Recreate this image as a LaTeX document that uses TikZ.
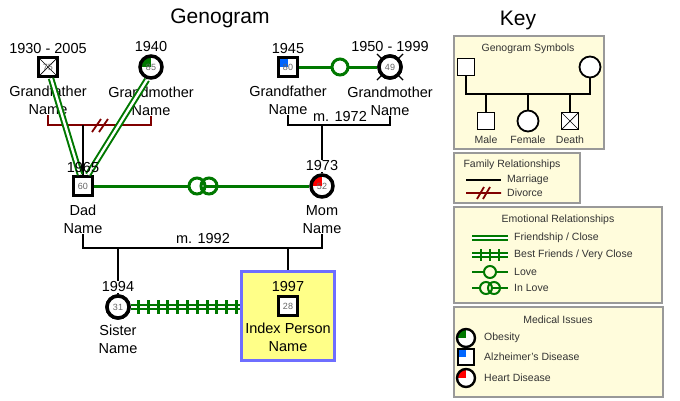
\documentclass[tikz,border=0pt]{standalone}
\usepackage{fontspec}
\setmainfont{Liberation Sans}
\usetikzlibrary{positioning,calc}
\definecolor{rel}{RGB}{0,120,0}
\definecolor{divc}{RGB}{128,0,0}
\definecolor{keyfill}{RGB}{255,252,220}
\definecolor{idxfill}{RGB}{255,255,136}
\definecolor{idxline}{RGB}{110,110,255}
\tikzstyle{male} = [draw, rectangle, line width=3.5pt, fill=white, minimum size=19pt, inner sep=0pt, font=\fontsize{9}{9}\selectfont\color{black!60}]
\tikzstyle{female} = [draw, circle, line width=3.5pt, fill=white, minimum size=22pt, inner sep=0pt, font=\fontsize{9}{9}\selectfont\color{black!60}]
\tikzstyle{kmale} = [draw, rectangle, line width=1.8pt, fill=white, minimum size=17pt, inner sep=0pt]
\tikzstyle{kfemale} = [draw, circle, line width=1.8pt, fill=white, minimum size=21pt, inner sep=0pt]
\tikzstyle{dead} = [path picture={\draw[line width=0.7pt] (path picture bounding box.north west) -- (path picture bounding box.south east) (path picture bounding box.north east) -- (path picture bounding box.south west);}]
\tikzstyle{quarter} = [path picture={\fill[#1] (path picture bounding box.center) rectangle (path picture bounding box.north west);}]
\tikzstyle{year} = [font=\fontsize{14.5}{15}\selectfont, inner sep=1pt, fill=white]
\tikzstyle{pname} = [font=\fontsize{14.5}{18}\selectfont, align=center, inner sep=0pt]
\tikzstyle{marriage} = [draw, line width=2.8pt]
\tikzstyle{friend} = [draw=rel, line width=2pt, double=white, double distance=2.4pt]
\tikzstyle{love} = [draw=rel, line width=3pt]
\tikzstyle{lovec} = [draw=rel, circle, line width=3pt, fill=white, minimum size=16pt, inner sep=0pt]
\tikzstyle{keybox} = [draw=black!40, fill=keyfill, line width=1.2pt]
\tikzstyle{ktitle} = [font=\fontsize{10.5}{11}\selectfont, text=black!80]
\tikzstyle{ktext} = [font=\fontsize{10.5}{11}\selectfont, text=black!80, anchor=west, inner sep=0pt]
\begin{document}
\begin{tikzpicture}[x=1pt, y=-1pt]
\useasboundingbox (0,0) rectangle (680,400);
\node [font=\fontsize{21}{22}\selectfont] (title) at (220,18) {Genogram};
\node [font=\fontsize{21}{22}\selectfont] (keytitle) at (518,20) {Key};

% grandparents
\node [male, dead] (gf1) at (48,67) {75};
\node [female, quarter=rel] (gm1) at (151,67) {85};
\node [male, quarter={blue!60!cyan}] (gf2) at (288,67) {80};
\node [female, dead] (gm2) at (390,67) {49};
\draw [line width=1.2pt] ($(gm2.center)!1.45!(gm2.north west)$) -- ($(gm2.center)!1.45!(gm2.south east)$);
\draw [line width=1.2pt] ($(gm2.center)!1.45!(gm2.north east)$) -- ($(gm2.center)!1.45!(gm2.south west)$);
\node [female, fill=white] at (390,67) {49};
\node [pname, below=8pt of gf1] (gf1name) {Grandfather\\Name};
\node [pname, below=7pt of gm1] (gm1name) {Grandmother\\Name};
\node [pname, below=8pt of gf2] (gf2name) {Grandfather\\Name};
\node [pname, below=7pt of gm2] (gm2name) {Grandmother\\Name};

% parents
\node [male] (dad) at (83,186) {60};
\node [female, quarter=red] (mom) at (322,186) {52};
\node [pname, below=8pt of dad] (dadname) {Dad\\Name};
\node [pname, below=7pt of mom] (momname) {Mom\\Name};

% children
\node [female] (sister) at (118,307) {31};
\node [pname, below=5pt of sister] (sistername) {Sister\\Name};
\node [draw=idxline, fill=idxfill, line width=3.5pt, minimum width=93pt, minimum height=89pt] (idx) at (288,316) {};
\node [male] (me) at (288,306) {28};
\node [pname, below=6pt of me] (mename) {Index Person\\Name};

% relationships
\coordinate (div) at (100,125);
\draw [draw=divc, line width=2.8pt] (gf1name.south) |- (div) -| (gm1name.south);
\draw [draw=divc, line width=1.8pt] (92,132) -- (101,119) (99,132) -- (108,119);
\draw [marriage] (dad |- div) -- (dad.north);
\draw [friend] ($(gf1.south)+(3,0)$) -- ($(dad.north)+(-3,0)$);
\draw [friend] ($(gm1.south)+(-4,0)$) -- ($(dad.north)+(5,0)$);
\coordinate (m72) at (340,125);
\draw [marriage] (gf2name.south) |- (m72) -| (gm2name.south);
\draw [marriage] (m72 -| mom) -- (mom.north);
\node [font=\fontsize{14.5}{15}\selectfont, above=0pt of m72] (m72lbl) {m. 1972};
\draw [love] (gf2) -- (gm2);
\node [lovec] (lv) at (340,67) {};
\draw [love] (dad) -- (mom);
\node [lovec] (il1) at (197,186) {};
\node [draw=rel, circle, line width=3pt, minimum size=16pt, inner sep=0pt] (il2) at (209,186) {};
\coordinate (m92) at (203,248);
\draw [marriage] (dadname.south) |- (m92) -| (momname.south);
\node [font=\fontsize{14.5}{15}\selectfont, above=1pt of m92] (m92lbl) {m. 1992};
\draw [marriage] (m92 -| sister) -- (sister.north);
\draw [marriage] (m92 -| idx) -- (idx.north);
\draw [friend] (sister.east) -- (sister.east -| idx.west);
\foreach \t in {0.07,0.16,...,1.0}
  \draw [rel, line width=3pt] ($(sister.east)!\t!(sister.east -| idx.west)+(0,-7)$) -- ++(0,14);
\node [female] at (118,307) {31};
\node [draw=idxline, line width=3.5pt, minimum width=93pt, minimum height=89pt] at (288,316) {};

% years
\node [year, above=1pt of gf1] (y1) {1930 - 2005};
\node [year, above=1pt of gm1] (y2) {1940};
\node [year, above=1pt of gf2] (y3) {1945};
\node [year, above=1pt of gm2] (y4) {1950 - 1999};
\node [year, above=1pt of dad, fill=none] (y5) {1965};
\node [year, above=1pt of mom] (y6) {1973};
\node [year, above=1pt of sister] (y7) {1994};
\node [year, above=2pt of me, fill=none] (y8) {1997};

% key: symbols
\draw [keybox] (454,36) rectangle (604,149);
\node [ktitle] at (528,49) {Genogram Symbols};
\node [kmale] (ka) at (466,67) {};
\node [kfemale] (kb) at (590,67) {};
\coordinate (kbar) at (528,94);
\draw [line width=1.8pt] (ka.south) |- (kbar) -| (kb.south);
\node [kmale] (kc) at (486,121) {};
\node [kfemale] (kd) at (528,121) {};
\node [kmale, dead] (ke) at (570,121) {};
\draw [line width=1.8pt] (kbar -| kc) -- (kc.north) (kbar -| kd) -- (kd.north) (kbar -| ke) -- (ke.north);
\node [ktitle] at (486,140) {Male};
\node [ktitle] at (528,140) {Female};
\node [ktitle] at (570,140) {Death};

% key: family
\draw [keybox] (454,153) rectangle (580,203);
\node [ktitle] at (512,165) {Family Relationships};
\draw [line width=1.8pt] (466,180) -- (501,180);
\node [ktext] at (507,180) {Marriage};
\draw [divc, line width=1.8pt] (466,193) -- (501,193) (477,199) -- (484,187) (483,199) -- (490,187);
\node [ktext] at (507,193) {Divorce};

% key: emotional
\draw [keybox] (454,207) rectangle (662,303);
\node [ktitle] at (558,220) {Emotional Relationships};
\draw [friend, line width=1.7pt] (472,238) -- (508,238);
\node [ktext] at (514,238) {Friendship / Close};
\draw [friend, line width=1.7pt] (472,255) -- (508,255);
\foreach \x in {481,490,499} \draw [rel, line width=2pt] (\x,249) -- (\x,261);
\node [ktext] at (514,255) {Best Friends / Very Close};
\draw [rel, line width=2pt] (472,272) -- (508,272);
\node [draw=rel, circle, fill=keyfill, line width=2pt, minimum size=12pt, inner sep=0pt] at (490,272) {};
\node [ktext] at (514,272) {Love};
\draw [rel, line width=2pt] (472,288) -- (508,288);
\node [draw=rel, circle, fill=keyfill, line width=2pt, minimum size=12pt, inner sep=0pt] at (486,288) {};
\node [draw=rel, circle, line width=2pt, minimum size=12pt, inner sep=0pt] at (494,288) {};
\node [ktext] at (514,288) {In Love};

% key: medical
\draw [keybox] (454,307) rectangle (663,397);
\node [ktitle] at (558,320) {Medical Issues};
\node [kfemale, line width=2.4pt, minimum size=18pt, quarter=rel] at (466,338) {};
\node [ktext] at (484,338) {Obesity};
\node [kmale, line width=2.4pt, minimum size=16pt, quarter={blue!60!cyan}] at (466,357) {};
\node [ktext] at (484,357) {Alzheimer's Disease};
\node [kfemale, line width=2.4pt, minimum size=18pt, quarter=red] at (466,378) {};
\node [ktext] at (484,378) {Heart Disease};
\end{tikzpicture}
\end{document}
